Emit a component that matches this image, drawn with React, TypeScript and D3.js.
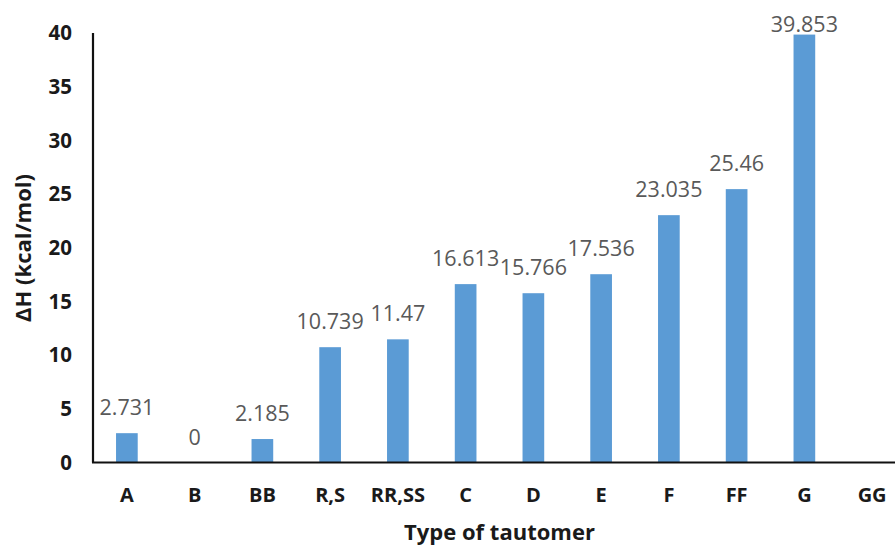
import React from "react";
import * as d3 from "d3";

const categories = ["A", "B", "BB", "R,S", "RR,SS", "C", "D", "E", "F", "FF", "G", "GG"];
const values: (number | null)[] = [2.731, 0, 2.185, 10.739, 11.47, 16.613, 15.766, 17.536, 23.035, 25.46, 39.853, null];
const valueLabels = ["2.731", "0", "2.185", "10.739", "11.47", "16.613", "15.766", "17.536", "23.035", "25.46", "39.853", ""];
const yTicks = [0, 5, 10, 15, 20, 25, 30, 35, 40];

const width = 895;
const height = 547;
const margin = { top: 33, right: -11, bottom: 85, left: 93 };

const font = "'Open Sans', 'Noto Sans', sans-serif";

const App = () => {
  const x = d3
    .scaleBand<string>()
    .domain(categories)
    .range([margin.left, width - margin.right])
    .paddingInner(0.68)
    .paddingOuter(0.34);
  const y = d3.scaleLinear([0, 40], [height - margin.bottom + 0.5, margin.top]);
  const y0 = y(0);

  return (
    <svg
      width={width}
      height={height}
      style={{ position: "absolute", left: 0, top: 0, background: "#fff" }}
      fontFamily={font}
    >
      {/* bars */}
      <g fill="#5b9bd5">
        {categories.map((c, i) =>
          values[i] == null ? null : (
            <rect
              key={c}
              x={x(c)}
              y={y(values[i] as number)}
              width={x.bandwidth()}
              height={y0 - y(values[i] as number)}
            />
          )
        )}
      </g>

      {/* data labels, kept inside the chart area like Excel does */}
      <g fill="#595959" fontSize={21.5} textAnchor="middle">
        {categories.map((c, i) =>
          values[i] == null ? null : (
            <text
              key={c}
              x={(x(c) as number) + x.bandwidth() / 2}
              y={Math.max(y(values[i] as number) - 18, 32)}
            >
              {valueLabels[i]}
            </text>
          )
        )}
      </g>

      {/* axes */}
      <line x1={margin.left} x2={margin.left} y1={margin.top} y2={y0} stroke="#111" strokeWidth={2.2} />
      <line x1={margin.left - 1} x2={width - margin.right} y1={y0} y2={y0} stroke="#111" strokeWidth={2.2} />

      <g fill="#1a1a1a" fontSize={20.5} fontWeight="bold" textAnchor="end">
        {yTicks.map((t) => (
          <text key={t} x={72} y={y(t)} dy="0.35em">
            {t}
          </text>
        ))}
      </g>

      <g fill="#1a1a1a" fontSize={20} fontWeight="bold" textAnchor="middle">
        {categories.map((c) => (
          <text key={c} x={(x(c) as number) + x.bandwidth() / 2} y={502}>
            {c}
          </text>
        ))}
      </g>

      <text
        x={(margin.left + width - margin.right) / 2}
        y={540}
        textAnchor="middle"
        fontSize={22}
        fontWeight="bold"
        fill="#1a1a1a"
      >
        Type of tautomer
      </text>
      <text
        transform={`translate(31,248) rotate(-90)`}
        textAnchor="middle"
        fontSize={22}
        fontWeight="bold"
        fill="#1a1a1a"
      >
        ΔH (kcal/mol)
      </text>
    </svg>
  );
};

export default App;
